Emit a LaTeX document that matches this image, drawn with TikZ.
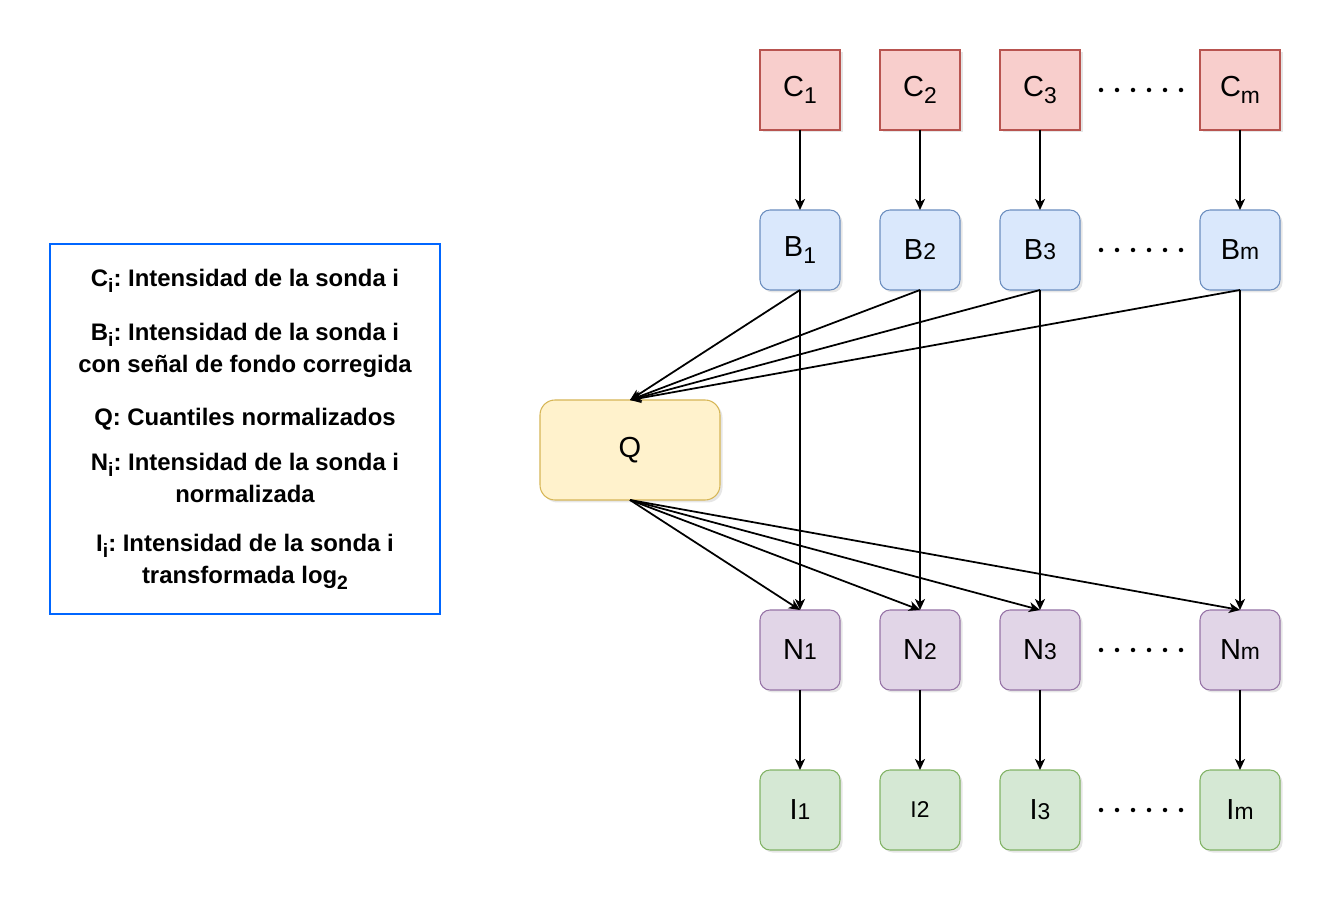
\documentclass[tikz,border=0pt]{standalone}
\usepackage{fontspec}
\setmainfont{Liberation Sans}
\usetikzlibrary{positioning, arrows.meta, shadows}

\definecolor{cfill}{HTML}{F8CECC}
\definecolor{cline}{HTML}{B85450}
\definecolor{bfill}{HTML}{DAE8FC}
\definecolor{bline}{HTML}{6C8EBF}
\definecolor{qfill}{HTML}{FFF2CC}
\definecolor{qline}{HTML}{D6B656}
\definecolor{nfill}{HTML}{E1D5E7}
\definecolor{nline}{HTML}{9673A6}
\definecolor{ifill}{HTML}{D5E8D4}
\definecolor{iline}{HTML}{82B366}
\definecolor{leyline}{HTML}{0066FF}

\newcommand{\pq}[1]{{\fontsize{13pt}{13pt}\selectfont #1}}
\newcommand{\sbc}[1]{\raisebox{-0.22em}{\pq{#1}}}
\newcommand{\sbl}[1]{\raisebox{-0.25em}{\fontsize{11pt}{11pt}\selectfont #1}}

\begin{document}
\frenchspacing
\begin{tikzpicture}[
                node distance=1.6cm and 0.8cm,
                caja/.style={
                  draw, line width=0.6pt, outer sep=0pt,
                  minimum width=1.6cm, minimum height=1.6cm, inner sep=0pt,
                  font=\fontsize{16.5pt}{18pt}\selectfont,
                  drop shadow={shadow xshift=0.05cm, shadow yshift=-0.05cm, opacity=0.2}
                },
                cbox/.style={caja, fill=cfill, draw=cline},
                bbox/.style={caja, rounded corners=0.2cm, fill=bfill, draw=bline},
                nbox/.style={caja, rounded corners=0.2cm, fill=nfill, draw=nline},
                ibox/.style={caja, rounded corners=0.2cm, fill=ifill, draw=iline},
                qbox/.style={caja, rounded corners=0.3cm, fill=qfill, draw=qline,
                  minimum width=3.6cm, minimum height=2cm},
                leyenda/.style={draw=leyline, line width=0.8pt,
                  minimum width=7.8cm, minimum height=7.4cm, align=center,
                  font=\bfseries\fontsize{13.6pt}{18pt}\selectfont},
                arrow/.style={draw, line width=1pt, -{Stealth[length=0.22cm, width=0.2cm, inset=0.06cm]}}
              ]
              \useasboundingbox (0,0) rectangle (26.66,-18.08);

              \node (C1) [cbox] at (16,-1.8) {C\sbc{1}};
              \node (C2) [cbox, right=of C1] {C\sbc{2}};
              \node (C3) [cbox, right=of C2] {C\sbc{3}};
              \node (Cm) [cbox, right=2.4cm of C3] {C\sbc{m}};

              \node (B1) [bbox, below=of C1] {B\sbc{1}};
              \node (B2) [bbox, below=of C2] {B\pq{2}};
              \node (B3) [bbox, below=of C3] {B\pq{3}};
              \node (Bm) [bbox, below=of Cm] {B\pq{m}};

              \node (N1) [nbox, below=6.4cm of B1] {N\pq{1}};
              \node (N2) [nbox, below=6.4cm of B2] {N\pq{2}};
              \node (N3) [nbox, below=6.4cm of B3] {N\pq{3}};
              \node (Nm) [nbox, below=6.4cm of Bm] {N\pq{m}};

              \node (I1) [ibox, below=of N1] {I\pq{1}};
              \node (I2) [ibox, below=of N2] {\pq{I2}};
              \node (I3) [ibox, below=of N3] {I\pq{3}};
              \node (Im) [ibox, below=of Nm] {I\pq{m}};

              \node (Q) [qbox] at (12.6,-9) {Q};

              \node (LEY) [leyenda] at (4.9,-8.58) {
                C\sbl{i}: Intensidad de la sonda i\\[13pt]
                B\sbl{i}: Intensidad de la sonda i\\
                con señal de fondo corregida\\[12pt]
                Q: Cuantiles normalizados\\[8pt]
                N\sbl{i}: Intensidad de la sonda i\\
                normalizada\\[10pt]
                I\sbl{i}: Intensidad de la sonda i\\
                transformada log\sbl{2}
              };

              % Dots between third and last column
              \foreach \fila in {C,B,N,I}
                \foreach \k in {0,...,5}
                  \fill ([xshift={0.42cm+\k*0.32cm}]\fila3.east) circle (0.045cm);

              % Draw arrows
              \draw[arrow] (C1) -- (B1);
              \draw[arrow] (C2) -- (B2);
              \draw[arrow] (C3) -- (B3);
              \draw[arrow] (Cm) -- (Bm);
              \draw[arrow] (B1.south) -- (Q.north);
              \draw[arrow] (B2.south) -- (Q.north);
              \draw[arrow] (B3.south) -- (Q.north);
              \draw[arrow] (Bm.south) -- (Q.north);
              \draw[arrow] (B1) -- (N1);
              \draw[arrow] (B2) -- (N2);
              \draw[arrow] (B3) -- (N3);
              \draw[arrow] (Bm) -- (Nm);
              \draw[arrow] (Q.south) -- (N1.north);
              \draw[arrow] (Q.south) -- (N2.north);
              \draw[arrow] (Q.south) -- (N3.north);
              \draw[arrow] (Q.south) -- (Nm.north);
              \draw[arrow] (N1) -- (I1);
              \draw[arrow] (N2) -- (I2);
              \draw[arrow] (N3) -- (I3);
              \draw[arrow] (Nm) -- (Im);

            \end{tikzpicture}
\end{document}
